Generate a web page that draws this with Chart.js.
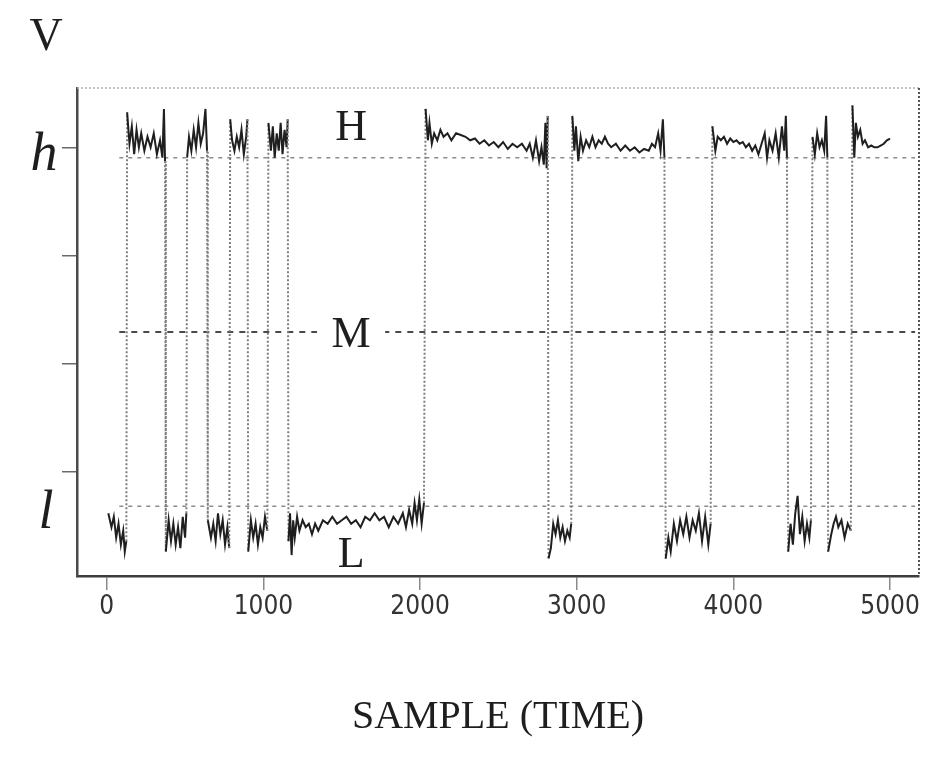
<!DOCTYPE html>
<html>
<head>
<meta charset="utf-8">
<script src="https://cdn.jsdelivr.net/npm/chart.js@4"></script>
<style>
  body { margin: 0; background: #fff; }
  canvas { display: block; }
</style>
</head>
<body>
<canvas id="traceChart" width="937" height="772"></canvas>
<script>
// sample index (time) of each trace point, one row per plateau
const traceSamples = [
  10, 30, 45, 60, 75, 90, 105, 115, 125,
  130, 145, 160, 175, 190, 205, 220, 240, 260, 280, 300, 320, 340, 355, 365, 372,
  377, 395, 410, 425, 440, 455, 470, 485, 500, 508,
  513, 525, 540, 555, 570, 585, 600, 615, 630, 640,
  645, 665, 680, 695, 710, 725, 740, 755, 770, 782,
  788, 800, 815, 830, 845, 860, 875, 890, 898,
  903, 920, 935, 950, 965, 980, 995, 1010, 1025,
  1032, 1048, 1060, 1072, 1085, 1098, 1110, 1122, 1135, 1148, 1155,
  1160, 1170, 1180, 1190, 1200, 1215, 1230, 1250, 1270, 1290, 1310, 1330, 1350, 1380, 1410, 1440, 1470, 1500, 1530,
  1560, 1590, 1620, 1650, 1680, 1710, 1740, 1770, 1800, 1830, 1860, 1890, 1910, 1930, 1950, 1965, 1980, 1995, 2010, 2025,
  2035, 2050, 2060, 2075, 2090, 2110, 2130, 2150, 2175, 2200, 2230, 2260, 2290, 2320, 2350, 2380, 2410, 2440,
  2470, 2500, 2530, 2560, 2590, 2620, 2650, 2680, 2700, 2720, 2740, 2760, 2775, 2790, 2800, 2808, 2815,
  2820, 2835, 2850, 2865, 2880, 2895, 2910, 2925, 2940, 2955, 2965,
  2972, 2985, 2995, 3010, 3025, 3040, 3060, 3080, 3100, 3120, 3140, 3160, 3180, 3200, 3220, 3250,
  3280, 3310, 3340, 3370, 3400, 3430, 3460, 3480, 3500, 3520, 3535, 3550, 3560,
  3568, 3585, 3600, 3620, 3640, 3660, 3680, 3700, 3720, 3740, 3760, 3780, 3800, 3820, 3840, 3855,
  3866, 3885, 3900, 3920, 3940, 3960, 3980, 4000, 4020, 4040, 4060, 4080, 4100, 4120,
  4140, 4160, 4180, 4200, 4215, 4230, 4250, 4270, 4290, 4310, 4325, 4335, 4342,
  4350, 4365, 4380, 4395, 4410, 4425, 4440, 4455, 4470, 4485, 4495,
  4505, 4520, 4535, 4550, 4565, 4580, 4592, 4600,
  4605, 4625, 4640, 4655, 4670, 4690, 4710, 4730, 4750,
  4760, 4772, 4782, 4795, 4810, 4825, 4840, 4860, 4880, 4900, 4920, 4940, 4960, 4980, 5000,
];

// voltage at those samples (l = 0, h = 1)
const traceVolts = [
  -0.02, -0.06, -0.03, -0.09, -0.05, -0.11, -0.07, -0.13, -0.10,
  1.13, 1.04, 1.09, 1.01, 1.08, 1.03, 1.07, 1.02, 1.06, 1.03, 1.07, 1.01, 1.05, 1.00, 1.14, 0.99,
  -0.13, -0.04, -0.10, -0.05, -0.11, -0.06, -0.12, -0.03, -0.09, -0.02,
  1.00, 1.06, 1.02, 1.08, 1.03, 1.10, 1.04, 1.07, 1.14, 1.02,
  -0.04, -0.09, -0.05, -0.10, -0.02, -0.08, -0.04, -0.11, -0.06, -0.12,
  1.11, 1.05, 1.02, 1.06, 1.03, 1.08, 1.01, 1.06, 1.11,
  -0.13, -0.04, -0.09, -0.05, -0.11, -0.06, -0.09, -0.03, -0.07,
  1.10, 1.02, 1.09, 1.00, 1.07, 1.02, 1.10, 1.01, 1.08, 1.03, 1.11,
  -0.10, -0.02, -0.14, -0.04, -0.09, -0.03, -0.07, -0.04, -0.06, -0.05, -0.08, -0.05, -0.07, -0.04, -0.05, -0.03, -0.05, -0.04, -0.03,
  -0.05, -0.04, -0.06, -0.03, -0.04, -0.02, -0.04, -0.03, -0.06, -0.03, -0.05, -0.02, -0.06, -0.01, -0.05, 0.01, -0.04, 0.02, -0.05, 0.01,
  1.14, 1.05, 1.10, 1.04, 1.07, 1.05, 1.08, 1.06, 1.07, 1.05, 1.07, 1.065, 1.06, 1.05, 1.055, 1.04, 1.05, 1.035,
  1.045, 1.03, 1.045, 1.025, 1.04, 1.03, 1.04, 1.02, 1.04, 1.00, 1.05, 0.99, 1.03, 0.98, 1.10, 0.97, 1.12,
  -0.15, -0.12, -0.05, -0.08, -0.04, -0.09, -0.06, -0.10, -0.07, -0.09, -0.05,
  1.12, 1.02, 1.09, 0.99, 1.06, 1.02, 1.05, 1.03, 1.06, 1.03, 1.05, 1.04, 1.06, 1.04, 1.03, 1.04,
  1.02, 1.035, 1.02, 1.03, 1.015, 1.025, 1.02, 1.04, 1.03, 1.07, 1.02, 1.11, 1.00,
  -0.15, -0.09, -0.13, -0.05, -0.10, -0.04, -0.08, -0.03, -0.09, -0.04, -0.07, -0.02, -0.10, -0.03, -0.11, -0.05,
  1.09, 1.02, 1.06, 1.05, 1.06, 1.04, 1.055, 1.045, 1.05, 1.04, 1.045, 1.03, 1.04, 1.02,
  1.035, 1.01, 1.04, 1.07, 1.00, 1.05, 1.02, 1.07, 1.00, 1.09, 1.02, 1.12, 1.00,
  -0.13, -0.05, -0.11, -0.02, 0.03, -0.08, -0.03, -0.10, -0.05, -0.09, -0.04,
  1.06, 1.01, 1.07, 1.03, 1.05, 1.02, 1.12, 1.00,
  -0.13, -0.08, -0.05, -0.03, -0.06, -0.04, -0.09, -0.05, -0.07,
  1.15, 1.00, 1.10, 1.06, 1.08, 1.04, 1.05, 1.03, 1.035, 1.03, 1.03, 1.035, 1.04, 1.05, 1.055,
];

// reference levels drawn as dashed lines
const levelNames = ['l', 'M', 'h'];
const levelValues = [0, 0.5, 1];
const levelSpan = [80, 5160];

const xTicks = [0, 1000, 2000, 3000, 4000, 5000];
const yTicks = [0.1, 0.41, 0.72, 1.03];

const serif = "'Liberation Serif', 'DejaVu Serif', serif";

const tracePoints = traceSamples.map((s, i) => ({ x: s, y: traceVolts[i] }));

function isEdge(seg) {
  return Math.abs(seg.p1.parsed.y - seg.p0.parsed.y) > 0.5;
}

const levelDatasets = levelValues.map((v, i) => ({
  label: levelNames[i],
  data: levelSpan.map((x) => ({ x, y: v })),
  borderColor: levelNames[i] === 'M' ? '#4a4a4a' : '#8c8c8c',
  borderWidth: levelNames[i] === 'M' ? 2 : 1.5,
  borderDash: levelNames[i] === 'M' ? [6, 6] : [4, 5],
  pointRadius: 0,
  order: 2,
}));

// frame, and the letters that sit in and around the plot
const annotate = {
  id: 'annotate',
  beforeDatasetsDraw(chart) {
    const { ctx, chartArea: a } = chart;
    ctx.save();
    ctx.setLineDash([2, 2]);
    ctx.lineWidth = 1.5;
    ctx.strokeStyle = '#b0b0b0';
    ctx.beginPath();
    ctx.moveTo(a.left, a.top);
    ctx.lineTo(a.right, a.top);
    ctx.stroke();
    ctx.strokeStyle = '#555';
    ctx.lineWidth = 2;
    ctx.beginPath();
    ctx.moveTo(a.right, a.top);
    ctx.lineTo(a.right, a.bottom);
    ctx.stroke();
    ctx.restore();
  },
  afterDatasetsDraw(chart) {
    const { ctx, scales: { x, y } } = chart;
    ctx.save();
    ctx.fillStyle = '#1e1e1e';
    ctx.textAlign = 'center';
    ctx.textBaseline = 'middle';

    ctx.font = `44px ${serif}`;
    const mx = x.getPixelForValue(1560);
    const my = y.getPixelForValue(0.5);
    ctx.fillStyle = '#fff';
    ctx.fillRect(mx - 34, my - 8, 68, 16);
    ctx.fillStyle = '#1e1e1e';
    ctx.fillText('M', mx, my + 3);
    ctx.fillText('H', mx, y.getPixelForValue(1.085));
    ctx.fillText('L', mx, y.getPixelForValue(-0.14));
    ctx.font = `46px ${serif}`;
    ctx.fillText('V', 46, 38);

    ctx.font = `italic 54px ${serif}`;
    ctx.fillText('h', 44, y.getPixelForValue(1) - 2);
    ctx.fillText('l', 46, y.getPixelForValue(0) + 8);
    ctx.restore();
  },
};

const ctx = document.getElementById('traceChart');
new Chart(ctx, {
  type: 'line',
  data: {
    datasets: [
      {
        label: 'V',
        data: tracePoints,
        borderColor: '#1f1f1f',
        borderWidth: 2,
        pointRadius: 0,
        tension: 0,
        order: 1,
        segment: {
          borderColor: (seg) => (isEdge(seg) ? '#7e7e7e' : undefined),
          borderDash: (seg) => (isEdge(seg) ? [2, 2] : undefined),
        },
      },
      ...levelDatasets,
    ],
  },
  options: {
    responsive: false,
    animation: false,
    layout: { padding: { top: 88, right: 18, left: 0, bottom: 0 } },
    plugins: { legend: { display: false }, tooltip: { enabled: false } },
    scales: {
      x: {
        type: 'linear',
        min: -190,
        max: 5185,
        afterBuildTicks(scale) {
          scale.ticks = xTicks.map((v) => ({ value: v }));
        },
        afterFit(scale) {
          scale.height = 196;
        },
        border: { color: '#3c3c3c', width: 2.5, dash: [2, 1] },
        grid: { drawOnChartArea: false, drawTicks: true, tickLength: 14, color: '#8a8a8a', lineWidth: 1.5 },
        ticks: {
          maxRotation: 0,
          padding: 2,
          color: '#333',
          font: { family: "'Liberation Sans Narrow', 'DejaVu Sans Condensed', 'Liberation Sans', sans-serif", size: 26 },
          callback: (v) => String(v),
        },
        title: {
          display: true,
          text: 'SAMPLE (TIME)',
          color: '#1e1e1e',
          font: { family: serif, size: 40 },
          padding: { top: 0, bottom: 31 },
        },
      },
      y: {
        type: 'linear',
        min: -0.2,
        max: 1.2,
        afterBuildTicks(scale) {
          scale.ticks = yTicks.map((v) => ({ value: v }));
        },
        afterFit(scale) {
          scale.width = 77;
        },
        border: { color: '#4a4a4a', width: 2.5, dash: [2, 1] },
        grid: { drawOnChartArea: false, drawTicks: true, tickLength: 15, color: '#6a6a6a', lineWidth: 1.5 },
        ticks: { callback: () => '' },
      },
    },
  },
  plugins: [annotate],
});
</script>
</body>
</html>
